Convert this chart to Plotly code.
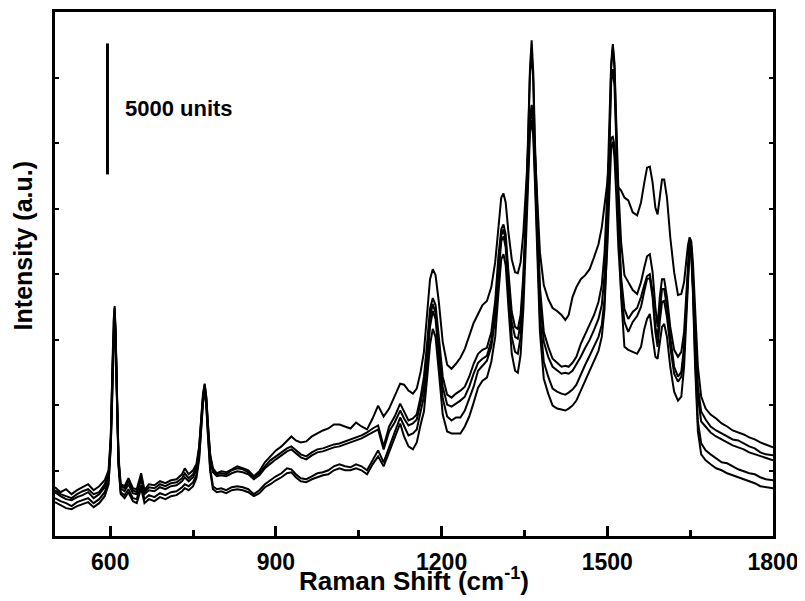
import plotly.graph_objects as go

# Raman shift grid (cm-1)
raman_shift = [
    500, 510, 520, 530, 540, 550, 560, 570, 580, 590,
    597, 601, 604, 606, 608, 610, 612, 615, 619, 626,
    633, 641, 648, 656, 662, 670, 680, 690, 700, 710,
    720, 730, 735, 742, 750, 756, 761, 765, 768, 771,
    774, 777, 781, 786, 793, 801, 810, 820, 830, 840,
    850, 860, 870, 880, 890, 900, 910, 920, 928, 936,
    945, 955, 965, 975, 985, 995, 1005, 1015, 1025, 1035,
    1045, 1055, 1065, 1075, 1085, 1095, 1105, 1115, 1125, 1132,
    1140, 1148, 1155, 1162, 1168, 1174, 1179, 1184, 1189, 1195,
    1202, 1210, 1218, 1226, 1234, 1242, 1250, 1258, 1266, 1274,
    1282, 1290, 1297, 1303, 1308, 1312, 1316, 1321, 1327, 1333,
    1338, 1343, 1348, 1353, 1357, 1360, 1363, 1366, 1369, 1373,
    1378, 1385, 1393, 1401, 1409, 1417, 1424, 1430, 1437, 1444,
    1452, 1460, 1468, 1476, 1484, 1490, 1495, 1500, 1504, 1507,
    1510, 1513, 1516, 1520, 1525, 1531, 1538, 1546, 1554, 1561,
    1567, 1572, 1577, 1582, 1587, 1591, 1595, 1599, 1603, 1608,
    1614, 1621, 1628, 1634, 1639, 1643, 1646, 1649, 1652, 1655,
    1659, 1664, 1670, 1678, 1687, 1697, 1707, 1717, 1727, 1737,
    1747, 1757, 1767, 1777, 1787, 1795, 1800,
]

# Intensities (counts) of the five spectra
spectrum_a = [
    1862, 1672, 1786, 1596, 1748, 1862, 1976, 1748, 1900, 2128,
    2508, 3800, 6460, 8170, 8778, 7600, 5320, 3040, 1976, 1900,
    2204, 1824, 1786, 2394, 1748, 1976, 1938, 2090, 2014, 2128,
    2166, 2356, 2584, 2356, 2508, 2736, 3420, 4560, 5434, 5814,
    5320, 4256, 3116, 2584, 2394, 2470, 2432, 2546, 2660, 2584,
    2508, 2280, 2470, 2812, 3040, 3268, 3420, 3648, 3800, 3648,
    3572, 3610, 3800, 3914, 4028, 4104, 4256, 4256, 4180, 4104,
    4332, 4180, 4066, 4484, 4978, 4560, 4864, 5320, 5814, 5776,
    5548, 5434, 5624, 6270, 7030, 8550, 9804, 10184, 9956, 8930,
    7410, 6536, 6384, 6574, 6802, 7144, 7600, 8132, 8474, 8816,
    8968, 9500, 10450, 11970, 12920, 13072, 12730, 11590, 10564, 10070,
    10032, 10450, 11590, 13376, 15010, 15960, 16454, 15960, 14630, 12730,
    10830, 9576, 9044, 8702, 8588, 8436, 8246, 8436, 9120, 9500,
    9804, 9956, 10184, 10640, 11134, 11780, 12540, 13490, 14630, 15200,
    15238, 14896, 14136, 13300, 13186, 12920, 12806, 12350, 12236, 12730,
    13490, 14060, 14098, 13490, 12540, 12274, 12920, 13604, 13604, 12920,
    11400, 10070, 9196, 9234, 9690, 10450, 11096, 11400, 11248, 10450,
    8550, 6460, 5320, 4864, 4636, 4484, 4294, 4180, 4028, 3952,
    3876, 3762, 3686, 3572, 3496, 3420, 3382,
]

spectrum_b = [
    1748, 1596, 1520, 1444, 1596, 1710, 1786, 1596, 1672, 1976,
    2356, 3686, 6384, 8056, 8702, 7524, 5206, 2926, 1900, 1824,
    2090, 1748, 1672, 2280, 1672, 1862, 1824, 1976, 1900, 2014,
    2052, 2204, 2394, 2204, 2356, 2622, 3344, 4484, 5358, 5776,
    5244, 4180, 3040, 2508, 2356, 2394, 2356, 2508, 2584, 2546,
    2432, 2242, 2394, 2660, 2888, 3040, 3192, 3344, 3420, 3268,
    3116, 3040, 3192, 3306, 3344, 3420, 3496, 3534, 3610, 3686,
    3762, 3838, 3952, 4104, 4218, 3420, 4180, 4560, 5054, 4750,
    4408, 4484, 4636, 5320, 6080, 7410, 8664, 9082, 8816, 7600,
    6080, 5396, 5282, 5434, 5548, 5700, 6080, 6574, 6954, 7106,
    7182, 7790, 8968, 10716, 11704, 11894, 11514, 10070, 8550, 7980,
    7904, 8436, 9956, 12540, 15200, 17860, 18924, 17670, 15010, 12160,
    9500, 7790, 7220, 6764, 6612, 6460, 6498, 6460, 6612, 6840,
    7334, 7714, 8056, 8436, 8930, 9576, 10830, 13110, 15960, 18050,
    18772, 18050, 15960, 13300, 11210, 9956, 9690, 9386, 9234, 9690,
    10260, 10678, 10754, 10070, 8740, 7980, 9120, 9804, 9804, 9120,
    7980, 7106, 6840, 7030, 7790, 9120, 10450, 11286, 11058, 9956,
    7790, 5700, 4750, 4446, 4180, 4028, 3914, 3800, 3686, 3648,
    3534, 3420, 3344, 3192, 3116, 3078, 3078,
]

spectrum_c = [
    1672, 1520, 1406, 1368, 1482, 1558, 1672, 1444, 1596, 1862,
    2280, 3610, 6270, 7980, 8626, 7410, 5130, 2850, 1824, 1710,
    1976, 1634, 1596, 2166, 1596, 1748, 1710, 1862, 1786, 1900,
    1938, 2090, 2242, 2090, 2242, 2508, 3230, 4370, 5282, 5700,
    5168, 4066, 2926, 2432, 2280, 2318, 2280, 2394, 2470, 2432,
    2356, 2166, 2318, 2584, 2774, 2926, 3078, 3230, 3306, 3154,
    3002, 2926, 3078, 3192, 3230, 3306, 3382, 3420, 3496, 3572,
    3648, 3724, 3838, 3952, 4066, 3306, 3990, 4332, 4788, 4484,
    4218, 4294, 4446, 5092, 5700, 7030, 8360, 8854, 8512, 7220,
    5700, 5016, 4940, 5054, 5168, 5320, 5700, 6194, 6612, 6764,
    6878, 7448, 8588, 10336, 11476, 11704, 11286, 9804, 8170, 7600,
    7524, 8094, 9728, 12350, 15010, 17670, 18468, 17290, 14630, 11780,
    9120, 7410, 6840, 6460, 6308, 6194, 6232, 6194, 6308, 6536,
    6840, 7182, 7486, 7866, 8284, 8816, 9956, 12160, 15200, 17290,
    17822, 17176, 15200, 12160, 9880, 8664, 8284, 8550, 8702, 9120,
    9576, 9918, 9994, 9310, 7980, 7600, 8550, 9424, 9424, 8740,
    7600, 6460, 6080, 6270, 7220, 8740, 10260, 11210, 10982, 9690,
    7410, 5320, 4370, 4180, 3952, 3800, 3686, 3572, 3458, 3382,
    3306, 3192, 3116, 3040, 2964, 2926, 2888,
]

spectrum_d = [
    1444, 1330, 1254, 1140, 1292, 1368, 1444, 1254, 1406, 1672,
    2090, 3496, 6194, 7904, 8588, 7334, 5054, 2736, 1672, 1558,
    1786, 1444, 1406, 1938, 1406, 1558, 1482, 1634, 1558, 1672,
    1710, 1862, 1976, 1900, 2052, 2318, 3040, 4256, 5168, 5624,
    5016, 3876, 2584, 1900, 1786, 1824, 1748, 1862, 1900, 1862,
    1786, 1596, 1748, 1976, 2128, 2280, 2394, 2584, 2546, 2356,
    2204, 2166, 2280, 2394, 2432, 2508, 2660, 2736, 2660, 2622,
    2736, 2660, 2508, 2888, 3268, 2812, 3420, 3952, 4522, 4180,
    3838, 3914, 4066, 4750, 5320, 6650, 7980, 8588, 8284, 6840,
    5244, 4560, 4408, 4522, 4522, 4788, 5206, 5700, 6308, 6498,
    6688, 7220, 8284, 9994, 11248, 11438, 11020, 9424, 7600, 7030,
    6954, 7600, 9310, 12084, 14630, 15884, 16188, 15580, 13870, 11210,
    8360, 6650, 6080, 5624, 5510, 5434, 5396, 5472, 5586, 5776,
    6194, 6536, 6878, 7220, 7600, 8056, 9044, 11020, 13490, 14820,
    15048, 14440, 13110, 11020, 9310, 8170, 7790, 8170, 8398, 8740,
    9348, 9804, 9842, 9120, 7790, 7220, 8170, 8930, 8968, 8360,
    7220, 6194, 5890, 6080, 7030, 8550, 10070, 11058, 10868, 9500,
    6840, 4370, 3534, 3268, 3116, 2964, 2812, 2774, 2660, 2546,
    2470, 2394, 2356, 2242, 2166, 2128, 2128,
]

spectrum_e = [
    1292, 1178, 1064, 1026, 1140, 1216, 1292, 1102, 1254, 1520,
    1976, 3420, 6080, 7828, 8512, 7258, 4940, 2660, 1596, 1444,
    1672, 1330, 1254, 1824, 1254, 1406, 1330, 1482, 1406, 1520,
    1558, 1710, 1824, 1748, 1900, 2204, 2926, 4180, 5092, 5548,
    4940, 3800, 2470, 1786, 1672, 1710, 1634, 1748, 1786, 1748,
    1672, 1520, 1634, 1862, 1976, 2128, 2242, 2394, 2432, 2242,
    2090, 2052, 2166, 2242, 2318, 2356, 2508, 2584, 2508, 2508,
    2584, 2508, 2356, 2736, 3040, 2660, 3192, 3724, 4294, 3800,
    3420, 3306, 3572, 4256, 4750, 6080, 7296, 7904, 7600, 6270,
    4636, 3990, 3914, 3914, 3914, 4180, 4560, 5092, 5662, 5928,
    6042, 6650, 7600, 9310, 10564, 10754, 10336, 8740, 6954, 6308,
    6232, 6916, 8664, 11400, 14060, 15390, 15884, 15200, 13490, 10830,
    7790, 6004, 5434, 4978, 4864, 4826, 4788, 4864, 4978, 5168,
    5548, 5890, 6270, 6650, 7068, 7600, 8664, 11400, 15200, 17860,
    18658, 17860, 15580, 12540, 9120, 7220, 7106, 7030, 6954, 7220,
    7904, 8284, 8474, 7600, 6840, 6764, 7410, 7980, 8094, 7600,
    6460, 5510, 5168, 5320, 6460, 8170, 9880, 10944, 10716, 9310,
    6460, 3990, 3116, 2888, 2736, 2584, 2508, 2394, 2318, 2242,
    2166, 2090, 2014, 1900, 1862, 1824, 1824,
]

spectra = [spectrum_a, spectrum_b, spectrum_c, spectrum_d, spectrum_e]
for s in spectra:
    assert len(s) == len(raman_shift), len(s)

x_tick_values = [600, 900, 1200, 1500, 1800]
x_tick_labels = ["600", "900", "1200", "1500", "1800"]
x_minor_ticks = [750, 1050, 1350, 1650]
x_range = [500, 1800]
y_range = [0, 20000]

# 5000-unit scale bar
scale_bar_x = [595, 595]
scale_bar_y = [13800, 18800]
scale_label = "5000 units"
scale_label_pos = (624, 16300)

FONT = "Liberation Sans, Arial, Helvetica, sans-serif"

fig = go.Figure()
for s in spectra:
    fig.add_trace(go.Scatter(
        x=raman_shift, y=s, mode="lines",
        line=dict(color="black", width=2),
        showlegend=False, hoverinfo="skip",
    ))

fig.add_trace(go.Scatter(
    x=scale_bar_x, y=scale_bar_y, mode="lines",
    line=dict(color="black", width=3),
    showlegend=False, hoverinfo="skip",
))

fig.add_annotation(
    x=scale_label_pos[0], y=scale_label_pos[1], xref="x", yref="y",
    text=scale_label, showarrow=False, xanchor="left", yanchor="middle",
    font=dict(family=FONT, size=22, color="black", weight="bold"),
)

# axis titles as annotations for precise placement
fig.add_annotation(
    x=0.5, y=-0.083, xref="paper", yref="paper",
    text="Raman Shift (cm<sup>-1</sup>)", showarrow=False,
    xanchor="center", yanchor="middle",
    font=dict(family=FONT, size=26, color="black", weight="bold"),
)
fig.add_annotation(
    x=-0.045, y=0.554, xref="paper", yref="paper",
    text="Intensity (a.u.)", showarrow=False, textangle=-90,
    xanchor="center", yanchor="middle",
    font=dict(family=FONT, size=25, color="black", weight="bold"),
)

fig.update_layout(
    width=797, height=593,
    margin=dict(l=47, r=32, t=1, b=65),
    paper_bgcolor="white", plot_bgcolor="white",
    showlegend=False,
)

fig.update_xaxes(
    range=x_range, tickmode="array", tickvals=x_tick_values, ticktext=x_tick_labels,
    ticks="inside", ticklen=10, tickwidth=2.5, tickcolor="black",
    minor=dict(tickmode="array", tickvals=x_minor_ticks,
               ticks="inside", ticklen=6, tickwidth=2.5, tickcolor="black"),
    showline=True, linewidth=2.5, linecolor="black", mirror=True,
    showgrid=False, zeroline=False,
    tickfont=dict(family=FONT, size=23, color="black", weight="bold"),
    ticklabelstandoff=4,
)
fig.update_yaxes(
    range=y_range, dtick=2500, tick0=0,
    ticks="inside", ticklen=4, tickwidth=1.5, tickcolor="black",
    showticklabels=False,
    showline=True, linewidth=2.5, linecolor="black", mirror="ticks",
    showgrid=False, zeroline=False,
)

fig.write_html("out.html")
